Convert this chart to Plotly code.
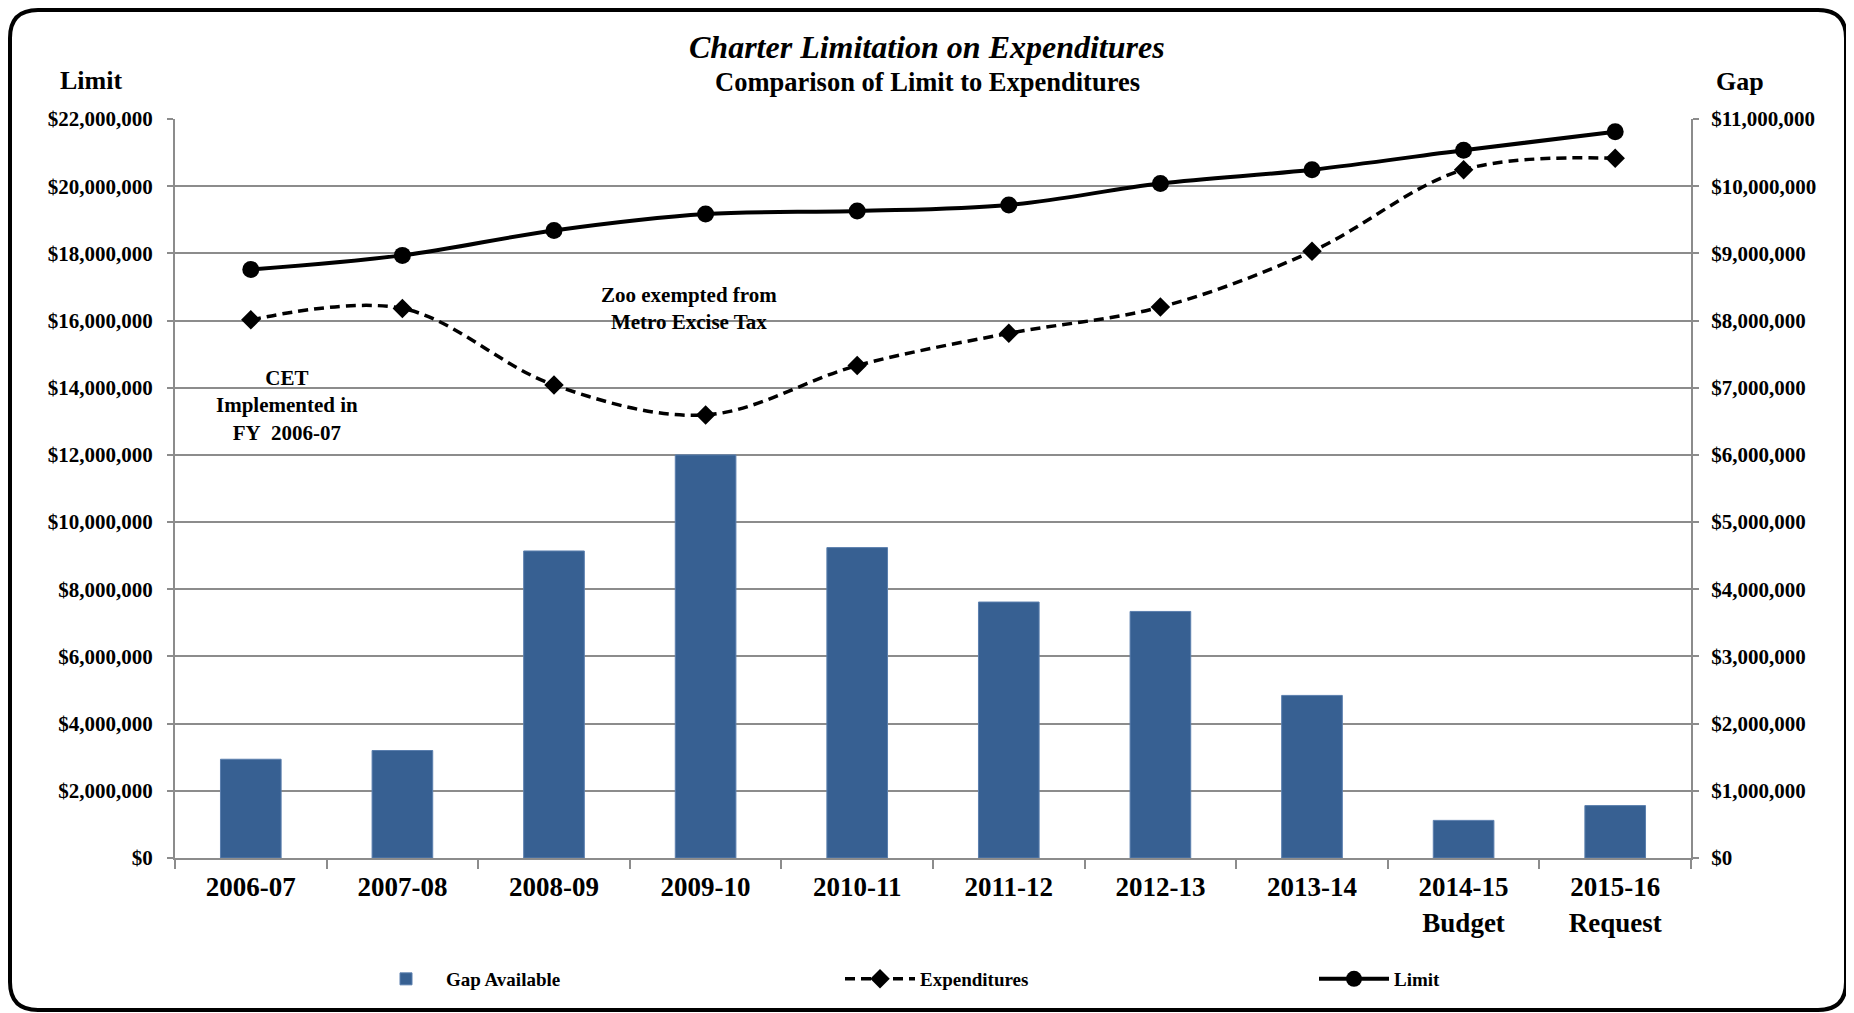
import plotly.graph_objects as go

# Fiscal years shown along the bottom
years = ['2006-07', '2007-08', '2008-09', '2009-10', '2010-11', '2011-12',
         '2012-13', '2013-14', '2014-15<br>Budget', '2015-16<br>Request']

# Values (dollars)
gap_available = [1470000, 1600000, 4570000, 6000000, 4620000, 3810000,
                 3670000, 2420000, 560000, 780000]
expenditures = [16020000, 16360000, 14080000, 13190000, 14660000, 15620000,
                16400000, 18060000, 20490000, 20830000]
limit = [17520000, 17940000, 18680000, 19170000, 19260000, 19440000,
         20080000, 20490000, 21070000, 21620000]

FONT = 'Liberation Serif'
GRID = '#8c8c8c'
BAR = '#376092'

# the page body adds an 8px offset, so positions below are given in
# screen pixels and the margins are trimmed by that offset
OFF = 8
FIG_W, FIG_H = 1854, 1013
PLOT_L, PLOT_R, PLOT_T, PLOT_B = 175, 1691, 119, 858
PW = PLOT_R - PLOT_L
PH = PLOT_B - PLOT_T


def px(x):
    return (x - PLOT_L) / PW


def py(y):
    return (PLOT_B - y) / PH


fig = go.Figure()

fig.add_trace(go.Bar(
    x=years, y=gap_available, name='Gap Available', yaxis='y2',
    marker=dict(color=BAR, line=dict(color='#5b7fae', width=1))
))

fig.add_trace(go.Scatter(
    x=years, y=expenditures, name='Expenditures', mode='lines+markers',
    line=dict(color='black', width=3.5, dash='10px,6px', shape='spline', smoothing=1),
    marker=dict(symbol='diamond', size=15, color='black')
))

fig.add_trace(go.Scatter(
    x=years, y=limit, name='Limit', mode='lines+markers',
    line=dict(color='black', width=4, shape='spline', smoothing=1),
    marker=dict(symbol='circle', size=17, color='black')
))

# text annotations
notes = [
    ('<i>Charter Limitation on Expenditures</i>', 927, 47, 32),
    ('Comparison of Limit to Expenditures', 927, 82, 26.5),
    ('Limit', 91, 80, 26),
    ('Gap', 1740, 82, 26),
    ('Zoo exempted from<br>Metro Excise Tax', 689, 308, 21),
    ('CET<br>Implemented in<br>FY\u00a0 2006-07', 287, 406, 21),
]
annotations = []
for text, ax, ay, size in notes:
    annotations.append(dict(
        text=text, x=px(ax), y=py(ay), xref='paper', yref='paper',
        xanchor='center', yanchor='middle', showarrow=False,
        font=dict(family=FONT, color='black', weight='bold', size=size)
    ))

# rounded frame around the whole chart
x0, x1, y0, y1, r = 10, 1846, 10, 1010, 28
frame = (f'M {px(x0 + r)},{py(y0)} L {px(x1 - r)},{py(y0)} '
         f'Q {px(x1)},{py(y0)} {px(x1)},{py(y0 + r)} '
         f'L {px(x1)},{py(y1 - r)} Q {px(x1)},{py(y1)} {px(x1 - r)},{py(y1)} '
         f'L {px(x0 + r)},{py(y1)} Q {px(x0)},{py(y1)} {px(x0)},{py(y1 - r)} '
         f'L {px(x0)},{py(y0 + r)} Q {px(x0)},{py(y0)} {px(x0 + r)},{py(y0)} Z')

fig.update_layout(
    width=FIG_W, height=FIG_H,
    margin=dict(l=PLOT_L - OFF, r=FIG_W - PLOT_R + OFF, t=PLOT_T - OFF,
                b=FIG_H - PLOT_B + OFF, autoexpand=False),
    paper_bgcolor='white', plot_bgcolor='white',
    font=dict(family=FONT, color='black', weight='bold'),
    bargap=0.6,
    showlegend=True,
    legend=dict(orientation='h', x=px(366), y=py(979), xanchor='left', yanchor='middle',
                entrywidth=389, entrywidthmode='pixels', itemwidth=70,
                font=dict(family=FONT, size=19, weight='bold'), traceorder='normal'),
    annotations=annotations,
    shapes=[dict(type='path', path=frame, xref='paper', yref='paper',
                 line=dict(color='black', width=4), layer='above')],
    xaxis=dict(
        type='category', showline=True, linecolor=GRID, linewidth=2,
        ticks='outside', tickson='boundaries', ticklen=9, tickwidth=2, tickcolor=GRID,
        ticklabelstandoff=4,
        tickfont=dict(size=27, family=FONT, weight='bold'), showgrid=False,
        range=[-0.5, len(years) - 0.5]
    ),
    yaxis=dict(
        range=[0, 22000000], dtick=2000000, tickprefix='$', tickformat=',d',
        showgrid=True, gridcolor=GRID, gridwidth=2, zeroline=False,
        showline=True, linecolor=GRID, linewidth=2,
        ticks='outside', ticklen=6, tickwidth=2, tickcolor=GRID,
        ticklabelstandoff=10,
        tickfont=dict(size=21, family=FONT, weight='bold')
    ),
    yaxis2=dict(
        range=[0, 11000000], dtick=1000000, tickprefix='$', tickformat=',d',
        overlaying='y', side='right', showgrid=False, zeroline=False,
        showline=True, linecolor=GRID, linewidth=2,
        ticks='outside', ticklen=6, tickwidth=2, tickcolor=GRID,
        ticklabelstandoff=8,
        tickfont=dict(size=21, family=FONT, weight='bold')
    ),
)

fig.write_html("out.html")
